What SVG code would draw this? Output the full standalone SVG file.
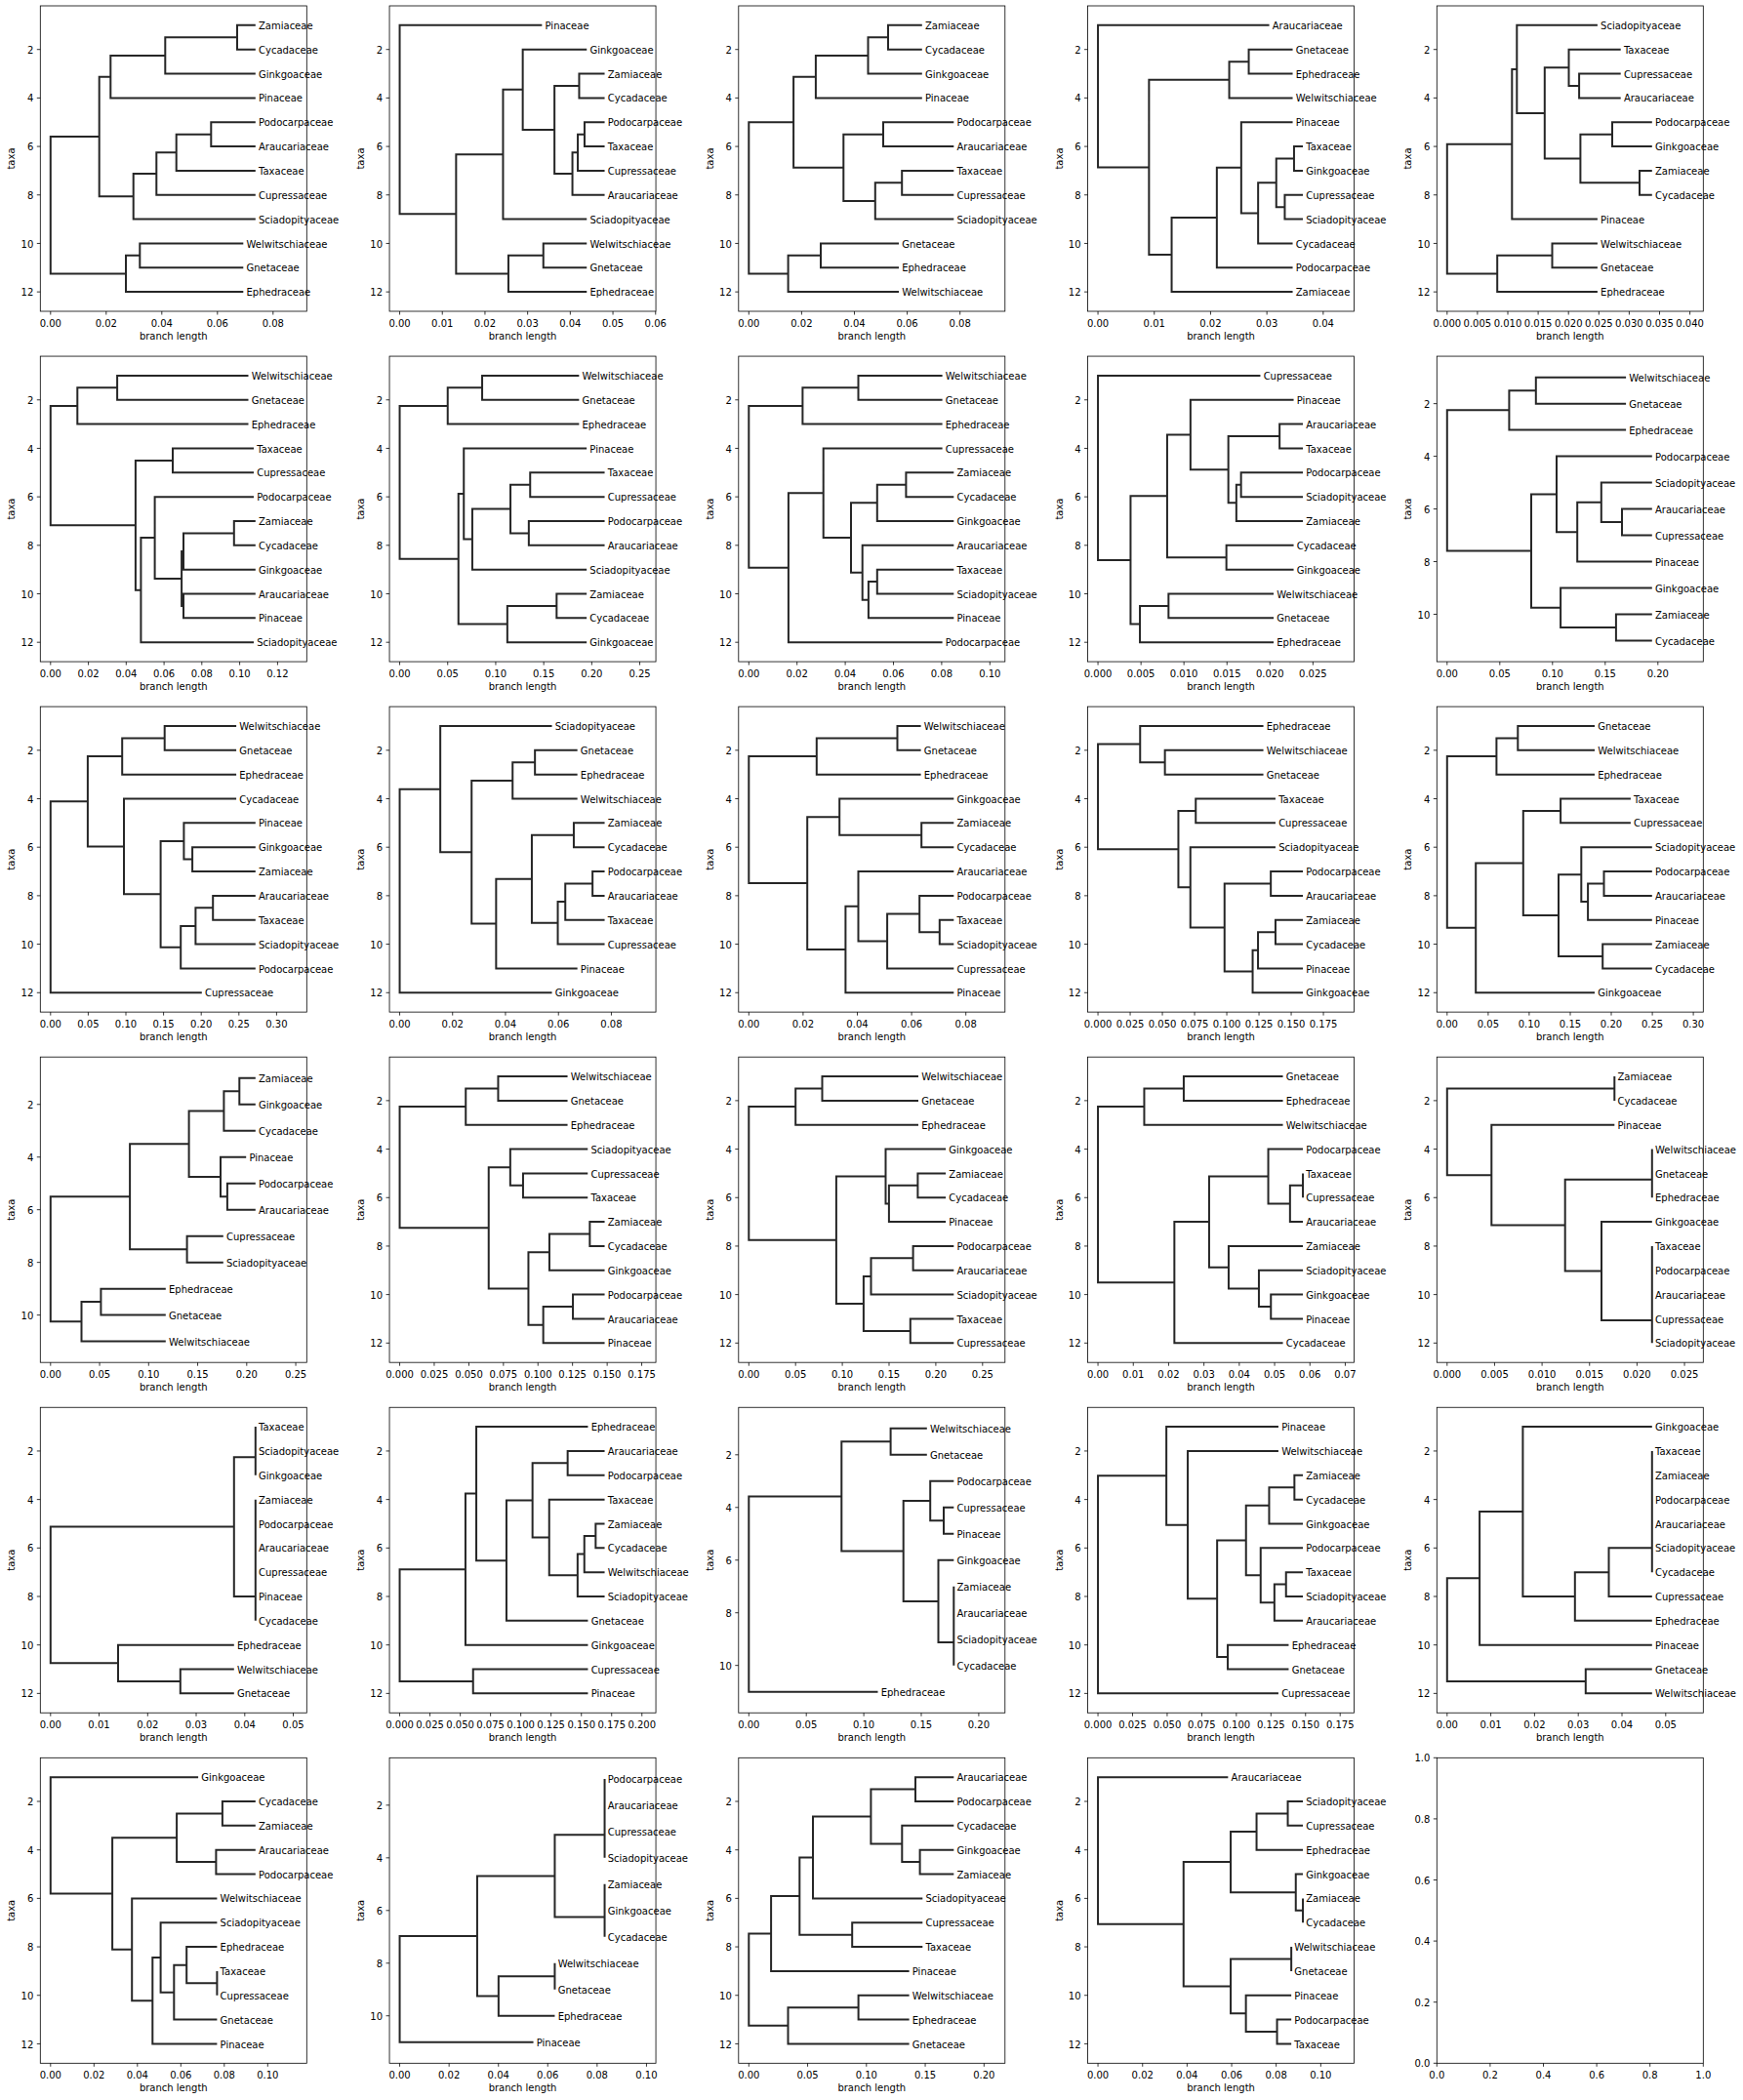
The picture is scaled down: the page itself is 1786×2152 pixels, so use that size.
<svg xmlns="http://www.w3.org/2000/svg" xmlns:xlink="http://www.w3.org/1999/xlink" width="1786" height="2152" viewBox="0 0 1786 2152">
<style>
text{font-family:"DejaVu Sans",sans-serif;font-size:10px;fill:#000}
.fr{fill:none;stroke:#000;stroke-width:0.8}
.tk{fill:none;stroke:#000;stroke-width:0.8}
.yl text{text-anchor:end}
.al{text-anchor:middle}
.xt text{text-anchor:middle}
.ed path{fill:none;stroke:#262626;stroke-width:2}
</style>
<defs>
<g id="ax12">
<rect class="fr" x="0" y="0" width="273" height="313"/>
<path class="tk" d="M0,44.71h-3.5M0,94.39h-3.5M0,144.08h-3.5M0,193.76h-3.5M0,243.44h-3.5M0,293.13h-3.5"/>
<g class="yl"><text x="-7" y="48.81">2</text><text x="-7" y="98.49">4</text><text x="-7" y="148.18">6</text><text x="-7" y="197.86">8</text><text x="-7" y="247.54">10</text><text x="-7" y="297.23">12</text></g>
<text class="al" transform="translate(-26,156.5) rotate(-90)">taxa</text>
<text class="al" x="136.5" y="341.7">branch length</text>
</g>
<g id="ax11">
<rect class="fr" x="0" y="0" width="273" height="313"/>
<path class="tk" d="M0,48.57h-3.5M0,102.54h-3.5M0,156.5h-3.5M0,210.47h-3.5M0,264.43h-3.5"/>
<g class="yl"><text x="-7" y="52.67">2</text><text x="-7" y="106.64">4</text><text x="-7" y="160.6">6</text><text x="-7" y="214.57">8</text><text x="-7" y="268.53">10</text></g>
<text class="al" transform="translate(-26,156.5) rotate(-90)">taxa</text>
<text class="al" x="136.5" y="341.7">branch length</text>
</g>
</defs>
<rect x="0" y="0" width="1786" height="2152" fill="#fff"/>

<!-- row 0 -->
<g id="tree_r0c0" transform="translate(41.3,6)">
<use xlink:href="#ax12"/>
<path class="tk" d="M10.5,313v3.5M67.5,313v3.5M124.5,313v3.5M181.5,313v3.5M238.5,313v3.5"/>
<g class="xt"><text x="10.5" y="329">0.00</text><text x="67.5" y="329">0.02</text><text x="124.5" y="329">0.04</text><text x="181.5" y="329">0.06</text><text x="238.5" y="329">0.08</text></g>
<g class="ed" transform="translate(10.5,-4.968) scale(1,24.841)"><path vector-effect="non-scaling-stroke" d="M49.9,5.594H0V11.25H77.2M61.5,3.125H49.9V8.063H84.9M117.5,2.25H61.5V4H210M191.2,1.5H117.5V3H210M210,1H191.2V2H210M108.5,7.125H84.9V9H210M128.9,6.25H108.5V8H210M164.5,5.5H128.9V7H210M210,5H164.5V6H210M91.5,10.5H77.2V12H197.5M197.5,10H91.5V11H197.5"/></g>
<g class="lb" transform="translate(13.7,-0.868)"><text x="210" y="24.84">Zamiaceae</text><text x="210" y="49.68">Cycadaceae</text><text x="210" y="74.52">Ginkgoaceae</text><text x="210" y="99.37">Pinaceae</text><text x="210" y="124.21">Podocarpaceae</text><text x="210" y="149.05">Araucariaceae</text><text x="210" y="173.89">Taxaceae</text><text x="210" y="198.73">Cupressaceae</text><text x="210" y="223.57">Sciadopityaceae</text><text x="197.5" y="248.41">Welwitschiaceae</text><text x="197.5" y="273.25">Gnetaceae</text><text x="197.5" y="298.1">Ephedraceae</text></g>
</g>

<g id="tree_r0c1" transform="translate(399.05,6)">
<use xlink:href="#ax12"/>
<path class="tk" d="M10.5,313v3.5M54.2,313v3.5M97.9,313v3.5M141.6,313v3.5M185.3,313v3.5M229,313v3.5M272.7,313v3.5"/>
<g class="xt"><text x="10.5" y="329">0.00</text><text x="54.2" y="329">0.01</text><text x="97.9" y="329">0.02</text><text x="141.6" y="329">0.03</text><text x="185.3" y="329">0.04</text><text x="229" y="329">0.05</text><text x="272.7" y="329">0.06</text></g>
<g class="ed" transform="translate(10.5,-4.968) scale(1,24.841)"><path vector-effect="non-scaling-stroke" d="M145.8,1H0V8.789H57.8M105.9,6.328H57.8V11.25H111.4M126.1,3.656H105.9V9H191.7M191.7,2H126.1V5.313H158.6M183.9,3.5H158.6V7.125H177M210,3H183.9V4H210M182.5,6.25H177V8H210M189.4,5.5H182.5V7H210M210,5H189.4V6H210M147.2,10.5H111.4V12H191.7M191.7,10H147.2V11H191.7"/></g>
<g class="lb" transform="translate(13.7,-0.868)"><text x="145.8" y="24.84">Pinaceae</text><text x="191.7" y="49.68">Ginkgoaceae</text><text x="210" y="74.52">Zamiaceae</text><text x="210" y="99.37">Cycadaceae</text><text x="210" y="124.21">Podocarpaceae</text><text x="210" y="149.05">Taxaceae</text><text x="210" y="173.89">Cupressaceae</text><text x="210" y="198.73">Araucariaceae</text><text x="191.7" y="223.57">Sciadopityaceae</text><text x="191.7" y="248.41">Welwitschiaceae</text><text x="191.7" y="273.25">Gnetaceae</text><text x="191.7" y="298.1">Ephedraceae</text></g>
</g>

<g id="tree_r0c2" transform="translate(756.8,6)">
<use xlink:href="#ax12"/>
<path class="tk" d="M10.5,313v3.5M64.6,313v3.5M118.7,313v3.5M172.8,313v3.5M226.9,313v3.5"/>
<g class="xt"><text x="10.5" y="329">0.00</text><text x="64.6" y="329">0.02</text><text x="118.7" y="329">0.04</text><text x="172.8" y="329">0.06</text><text x="226.9" y="329">0.08</text></g>
<g class="ed" transform="translate(10.5,-4.968) scale(1,24.841)"><path vector-effect="non-scaling-stroke" d="M45.8,5H0V11.25H40.3M68.6,3.125H45.8V6.875H97M122.2,2.25H68.6V4H177.5M142.7,1.5H122.2V3H177.5M177.5,1H142.7V2H177.5M137.7,5.5H97V8.25H129.5M210,5H137.7V6H210M156.9,7.5H129.5V9H210M210,7H156.9V8H210M73.7,10.5H40.3V12H153.7M153.7,10H73.7V11H153.7"/></g>
<g class="lb" transform="translate(13.7,-0.868)"><text x="177.5" y="24.84">Zamiaceae</text><text x="177.5" y="49.68">Cycadaceae</text><text x="177.5" y="74.52">Ginkgoaceae</text><text x="177.5" y="99.37">Pinaceae</text><text x="210" y="124.21">Podocarpaceae</text><text x="210" y="149.05">Araucariaceae</text><text x="210" y="173.89">Taxaceae</text><text x="210" y="198.73">Cupressaceae</text><text x="210" y="223.57">Sciadopityaceae</text><text x="153.7" y="248.41">Gnetaceae</text><text x="153.7" y="273.25">Ephedraceae</text><text x="153.7" y="298.1">Welwitschiaceae</text></g>
</g>

<g id="tree_r0c3" transform="translate(1114.55,6)">
<use xlink:href="#ax12"/>
<path class="tk" d="M10.5,313v3.5M68.2,313v3.5M125.9,313v3.5M183.6,313v3.5M241.3,313v3.5"/>
<g class="xt"><text x="10.5" y="329">0.00</text><text x="68.2" y="329">0.01</text><text x="125.9" y="329">0.02</text><text x="183.6" y="329">0.03</text><text x="241.3" y="329">0.04</text></g>
<g class="ed" transform="translate(10.5,-4.968) scale(1,24.841)"><path vector-effect="non-scaling-stroke" d="M175.5,1H0V6.859H52.3M134.5,3.25H52.3V10.469H75.5M154.5,2.5H134.5V4H199.5M199.5,2H154.5V3H199.5M121.8,8.938H75.5V12H199.5M146.8,6.875H121.8V11H199.5M199.5,5H146.8V8.75H164.1M182.7,7.5H164.1V10H199.5M200.9,6.5H182.7V8.5H191.4M210,6H200.9V7H210M210,8H191.4V9H210"/></g>
<g class="lb" transform="translate(13.7,-0.868)"><text x="175.5" y="24.84">Araucariaceae</text><text x="199.5" y="49.68">Gnetaceae</text><text x="199.5" y="74.52">Ephedraceae</text><text x="199.5" y="99.37">Welwitschiaceae</text><text x="199.5" y="124.21">Pinaceae</text><text x="210" y="149.05">Taxaceae</text><text x="210" y="173.89">Ginkgoaceae</text><text x="210" y="198.73">Cupressaceae</text><text x="210" y="223.57">Sciadopityaceae</text><text x="199.5" y="248.41">Cycadaceae</text><text x="199.5" y="273.25">Podocarpaceae</text><text x="199.5" y="298.1">Zamiaceae</text></g>
</g>

<g id="tree_r0c4" transform="translate(1472.3,6)">
<use xlink:href="#ax12"/>
<path class="tk" d="M10.5,313v3.5M41.6,313v3.5M72.7,313v3.5M103.8,313v3.5M134.9,313v3.5M166,313v3.5M197.1,313v3.5M228.2,313v3.5M259.3,313v3.5"/>
<g class="xt"><text x="10.5" y="329">0.000</text><text x="41.6" y="329">0.005</text><text x="72.7" y="329">0.010</text><text x="103.8" y="329">0.015</text><text x="134.9" y="329">0.020</text><text x="166" y="329">0.025</text><text x="197.1" y="329">0.030</text><text x="228.2" y="329">0.035</text><text x="259.3" y="329">0.040</text></g>
<g class="ed" transform="translate(10.5,-4.968) scale(1,24.841)"><path vector-effect="non-scaling-stroke" d="M66.5,5.906H0V11.25H51.4M71.5,2.813H66.5V9H154.1M154.1,1H71.5V4.625H100M124.7,2.75H100V6.5H136.6M177.9,2H124.7V3.5H135.3M177.9,3H135.3V4H177.9M169.2,5.5H136.6V7.5H197.2M210,5H169.2V6H210M210,7H197.2V8H210M107.7,10.5H51.4V12H154.1M154.1,10H107.7V11H154.1"/></g>
<g class="lb" transform="translate(13.7,-0.868)"><text x="154.1" y="24.84">Sciadopityaceae</text><text x="177.9" y="49.68">Taxaceae</text><text x="177.9" y="74.52">Cupressaceae</text><text x="177.9" y="99.37">Araucariaceae</text><text x="210" y="124.21">Podocarpaceae</text><text x="210" y="149.05">Ginkgoaceae</text><text x="210" y="173.89">Zamiaceae</text><text x="210" y="198.73">Cycadaceae</text><text x="154.1" y="223.57">Pinaceae</text><text x="154.1" y="248.41">Welwitschiaceae</text><text x="154.1" y="273.25">Gnetaceae</text><text x="154.1" y="298.1">Ephedraceae</text></g>
</g>

<!-- row 1 -->
<g id="tree_r1c0" transform="translate(41.3,365.06)">
<use xlink:href="#ax12"/>
<path class="tk" d="M10.5,313v3.5M49.3,313v3.5M88,313v3.5M126.8,313v3.5M165.5,313v3.5M204.3,313v3.5M243.1,313v3.5"/>
<g class="xt"><text x="10.5" y="329">0.00</text><text x="49.3" y="329">0.02</text><text x="88" y="329">0.04</text><text x="126.8" y="329">0.06</text><text x="165.5" y="329">0.08</text><text x="204.3" y="329">0.10</text><text x="243.1" y="329">0.12</text></g>
<g class="ed" transform="translate(10.5,-4.968) scale(1,24.841)"><path vector-effect="non-scaling-stroke" d="M27.5,2.25H0V7.172H87.1M68.3,1.5H27.5V3H202.7M202.7,1H68.3V2H202.7M125.2,4.5H87.1V9.844H92.6M208.2,4H125.2V5H208.2M106.8,7.688H92.6V12H208.2M208.2,6H106.8V9.375H134.3M136.2,8.25H134.3V10.5H136.2M188,7.5H136.2V9H210M210,7H188V8H210M210,10H136.2V11H210"/></g>
<g class="lb" transform="translate(13.7,-0.868)"><text x="202.7" y="24.84">Welwitschiaceae</text><text x="202.7" y="49.68">Gnetaceae</text><text x="202.7" y="74.52">Ephedraceae</text><text x="208.2" y="99.37">Taxaceae</text><text x="208.2" y="124.21">Cupressaceae</text><text x="208.2" y="149.05">Podocarpaceae</text><text x="210" y="173.89">Zamiaceae</text><text x="210" y="198.73">Cycadaceae</text><text x="210" y="223.57">Ginkgoaceae</text><text x="210" y="248.41">Araucariaceae</text><text x="210" y="273.25">Pinaceae</text><text x="208.2" y="298.1">Sciadopityaceae</text></g>
</g>

<g id="tree_r1c1" transform="translate(399.05,365.06)">
<use xlink:href="#ax12"/>
<path class="tk" d="M10.5,313v3.5M59.7,313v3.5M108.9,313v3.5M158.1,313v3.5M207.3,313v3.5M256.5,313v3.5"/>
<g class="xt"><text x="10.5" y="329">0.00</text><text x="59.7" y="329">0.05</text><text x="108.9" y="329">0.10</text><text x="158.1" y="329">0.15</text><text x="207.3" y="329">0.20</text><text x="256.5" y="329">0.25</text></g>
<g class="ed" transform="translate(10.5,-4.968) scale(1,24.841)"><path vector-effect="non-scaling-stroke" d="M49.2,2.25H0V8.563H60.2M84.5,1.5H49.2V3H183.8M183.8,1H84.5V2H183.8M65.7,5.875H60.2V11.25H110.3M191.6,4H65.7V7.75H74.4M113.5,6.5H74.4V9H191.6M133.7,5.5H113.5V7.5H132.3M210,5H133.7V6H210M210,7H132.3V8H210M160.8,10.5H110.3V12H191.6M191.6,10H160.8V11H191.6"/></g>
<g class="lb" transform="translate(13.7,-0.868)"><text x="183.8" y="24.84">Welwitschiaceae</text><text x="183.8" y="49.68">Gnetaceae</text><text x="183.8" y="74.52">Ephedraceae</text><text x="191.6" y="99.37">Pinaceae</text><text x="210" y="124.21">Taxaceae</text><text x="210" y="149.05">Cupressaceae</text><text x="210" y="173.89">Podocarpaceae</text><text x="210" y="198.73">Araucariaceae</text><text x="191.6" y="223.57">Sciadopityaceae</text><text x="191.6" y="248.41">Zamiaceae</text><text x="191.6" y="273.25">Cycadaceae</text><text x="191.6" y="298.1">Ginkgoaceae</text></g>
</g>

<g id="tree_r1c2" transform="translate(756.8,365.06)">
<use xlink:href="#ax12"/>
<path class="tk" d="M10.5,313v3.5M59.9,313v3.5M109.3,313v3.5M158.7,313v3.5M208.1,313v3.5M257.5,313v3.5"/>
<g class="xt"><text x="10.5" y="329">0.00</text><text x="59.9" y="329">0.02</text><text x="109.3" y="329">0.04</text><text x="158.7" y="329">0.06</text><text x="208.1" y="329">0.08</text><text x="257.5" y="329">0.10</text></g>
<g class="ed" transform="translate(10.5,-4.968) scale(1,24.841)"><path vector-effect="non-scaling-stroke" d="M55.1,2.25H0V8.922H40.6M112.2,1.5H55.1V3H198.3M198.3,1H112.2V2H198.3M76.4,5.844H40.6V12H198.3M198.3,4H76.4V7.688H104.7M131.5,6.25H104.7V9.125H116.4M161.1,5.5H131.5V7H210M210,5H161.1V6H210M210,8H116.4V10.25H122.6M131.5,9.5H122.6V11H210M210,9H131.5V10H210"/></g>
<g class="lb" transform="translate(13.7,-0.868)"><text x="198.3" y="24.84">Welwitschiaceae</text><text x="198.3" y="49.68">Gnetaceae</text><text x="198.3" y="74.52">Ephedraceae</text><text x="198.3" y="99.37">Cupressaceae</text><text x="210" y="124.21">Zamiaceae</text><text x="210" y="149.05">Cycadaceae</text><text x="210" y="173.89">Ginkgoaceae</text><text x="210" y="198.73">Araucariaceae</text><text x="210" y="223.57">Taxaceae</text><text x="210" y="248.41">Sciadopityaceae</text><text x="210" y="273.25">Pinaceae</text><text x="198.3" y="298.1">Podocarpaceae</text></g>
</g>

<g id="tree_r1c3" transform="translate(1114.55,365.06)">
<use xlink:href="#ax12"/>
<path class="tk" d="M10.5,313v3.5M54.6,313v3.5M98.6,313v3.5M142.7,313v3.5M186.7,313v3.5M230.8,313v3.5"/>
<g class="xt"><text x="10.5" y="329">0.000</text><text x="54.6" y="329">0.005</text><text x="98.6" y="329">0.010</text><text x="142.7" y="329">0.015</text><text x="186.7" y="329">0.020</text><text x="230.8" y="329">0.025</text></g>
<g class="ed" transform="translate(10.5,-4.968) scale(1,24.841)"><path vector-effect="non-scaling-stroke" d="M166.4,1H0V8.609H33.4M70.9,5.969H33.4V11.25H43M94.8,3.438H70.9V8.5H131.6M200.5,2H94.8V4.875H133.6M186.1,3.5H133.6V6.25H141.8M210,3H186.1V4H210M146.6,5.5H141.8V7H210M210,5H146.6V6H210M200.5,8H131.6V9H200.5M72.3,10.5H43V12H180M180,10H72.3V11H180"/></g>
<g class="lb" transform="translate(13.7,-0.868)"><text x="166.4" y="24.84">Cupressaceae</text><text x="200.5" y="49.68">Pinaceae</text><text x="210" y="74.52">Araucariaceae</text><text x="210" y="99.37">Taxaceae</text><text x="210" y="124.21">Podocarpaceae</text><text x="210" y="149.05">Sciadopityaceae</text><text x="210" y="173.89">Zamiaceae</text><text x="200.5" y="198.73">Cycadaceae</text><text x="200.5" y="223.57">Ginkgoaceae</text><text x="180" y="248.41">Welwitschiaceae</text><text x="180" y="273.25">Gnetaceae</text><text x="180" y="298.1">Ephedraceae</text></g>
</g>

<g id="tree_r1c4" transform="translate(1472.3,365.06)">
<use xlink:href="#ax11"/>
<path class="tk" d="M10.5,313v3.5M64.5,313v3.5M118.5,313v3.5M172.5,313v3.5M226.5,313v3.5"/>
<g class="xt"><text x="10.5" y="329">0.00</text><text x="64.5" y="329">0.05</text><text x="118.5" y="329">0.10</text><text x="172.5" y="329">0.15</text><text x="226.5" y="329">0.20</text></g>
<g class="ed" transform="translate(10.5,-5.397) scale(1,26.983)"><path vector-effect="non-scaling-stroke" d="M63.6,2.25H0V7.594H86.2M91,1.5H63.6V3H183.3M183.3,1H91V2H183.3M112.2,5.438H86.2V9.75H116.3M210,4H112.2V6.875H133.4M158,5.75H133.4V8H210M210,5H158V6.5H179.2M210,6H179.2V7H210M210,9H116.3V10.5H173.1M210,10H173.1V11H210"/></g>
<g class="lb" transform="translate(13.7,-1.297)"><text x="183.3" y="26.98">Welwitschiaceae</text><text x="183.3" y="53.97">Gnetaceae</text><text x="183.3" y="80.95">Ephedraceae</text><text x="210" y="107.93">Podocarpaceae</text><text x="210" y="134.91">Sciadopityaceae</text><text x="210" y="161.9">Araucariaceae</text><text x="210" y="188.88">Cupressaceae</text><text x="210" y="215.86">Pinaceae</text><text x="210" y="242.84">Ginkgoaceae</text><text x="210" y="269.83">Zamiaceae</text><text x="210" y="296.81">Cycadaceae</text></g>
</g>

<!-- row 2 -->
<g id="tree_r2c0" transform="translate(41.3,724.12)">
<use xlink:href="#ax12"/>
<path class="tk" d="M10.5,313v3.5M49.1,313v3.5M87.7,313v3.5M126.3,313v3.5M164.9,313v3.5M203.5,313v3.5M242.1,313v3.5"/>
<g class="xt"><text x="10.5" y="329">0.00</text><text x="49.1" y="329">0.05</text><text x="87.7" y="329">0.10</text><text x="126.3" y="329">0.15</text><text x="164.9" y="329">0.20</text><text x="203.5" y="329">0.25</text><text x="242.1" y="329">0.30</text></g>
<g class="ed" transform="translate(10.5,-4.968) scale(1,24.841)"><path vector-effect="non-scaling-stroke" d="M38.1,4.109H0V12H155M73.4,2.25H38.1V5.969H75.2M116.9,1.5H73.4V3H190.3M190.3,1H116.9V2H190.3M190.3,4H75.2V7.938H112.8M136.6,5.75H112.8V10.125H133.4M210,5H136.6V6.5H145.3M210,6H145.3V7H210M148.6,9.25H133.4V11H210M166.4,8.5H148.6V10H210M210,8H166.4V9H210"/></g>
<g class="lb" transform="translate(13.7,-0.868)"><text x="190.3" y="24.84">Welwitschiaceae</text><text x="190.3" y="49.68">Gnetaceae</text><text x="190.3" y="74.52">Ephedraceae</text><text x="190.3" y="99.37">Cycadaceae</text><text x="210" y="124.21">Pinaceae</text><text x="210" y="149.05">Ginkgoaceae</text><text x="210" y="173.89">Zamiaceae</text><text x="210" y="198.73">Araucariaceae</text><text x="210" y="223.57">Taxaceae</text><text x="210" y="248.41">Sciadopityaceae</text><text x="210" y="273.25">Podocarpaceae</text><text x="155" y="298.1">Cupressaceae</text></g>
</g>

<g id="tree_r2c1" transform="translate(399.05,724.12)">
<use xlink:href="#ax12"/>
<path class="tk" d="M10.5,313v3.5M64.7,313v3.5M118.9,313v3.5M173.2,313v3.5M227.4,313v3.5"/>
<g class="xt"><text x="10.5" y="329">0.00</text><text x="64.7" y="329">0.02</text><text x="118.9" y="329">0.04</text><text x="173.2" y="329">0.06</text><text x="227.4" y="329">0.08</text></g>
<g class="ed" transform="translate(10.5,-4.968) scale(1,24.841)"><path vector-effect="non-scaling-stroke" d="M41.6,3.602H0V12H156M156,1H41.6V6.203H73.7M115.7,3.25H73.7V9.156H98.8M138.6,2.5H115.7V4H182.1M182.1,2H138.6V3H182.1M135.4,7.313H98.8V11H182.1M178.4,5.5H135.4V9.125H162M210,5H178.4V6H210M169.7,8.25H162V10H210M197.6,7.5H169.7V9H210M210,7H197.6V8H210"/></g>
<g class="lb" transform="translate(13.7,-0.868)"><text x="156" y="24.84">Sciadopityaceae</text><text x="182.1" y="49.68">Gnetaceae</text><text x="182.1" y="74.52">Ephedraceae</text><text x="182.1" y="99.37">Welwitschiaceae</text><text x="210" y="124.21">Zamiaceae</text><text x="210" y="149.05">Cycadaceae</text><text x="210" y="173.89">Podocarpaceae</text><text x="210" y="198.73">Araucariaceae</text><text x="210" y="223.57">Taxaceae</text><text x="210" y="248.41">Cupressaceae</text><text x="182.1" y="273.25">Pinaceae</text><text x="156" y="298.1">Ginkgoaceae</text></g>
</g>

<g id="tree_r2c2" transform="translate(756.8,724.12)">
<use xlink:href="#ax12"/>
<path class="tk" d="M10.5,313v3.5M66.1,313v3.5M121.7,313v3.5M177.3,313v3.5M232.9,313v3.5"/>
<g class="xt"><text x="10.5" y="329">0.00</text><text x="66.1" y="329">0.02</text><text x="121.7" y="329">0.04</text><text x="177.3" y="329">0.06</text><text x="232.9" y="329">0.08</text></g>
<g class="ed" transform="translate(10.5,-4.968) scale(1,24.841)"><path vector-effect="non-scaling-stroke" d="M69.5,2.25H0V7.484H59.9M152.2,1.5H69.5V3H176.3M176.3,1H152.2V2H176.3M92.9,4.75H59.9V10.219H99.1M210,4H92.9V5.5H176.9M210,5H176.9V6H210M112.2,8.438H99.1V12H210M210,7H112.2V9.875H141.8M174.9,8.75H141.8V11H210M210,8H174.9V9.5H195.5M210,9H195.5V10H210"/></g>
<g class="lb" transform="translate(13.7,-0.868)"><text x="176.3" y="24.84">Welwitschiaceae</text><text x="176.3" y="49.68">Gnetaceae</text><text x="176.3" y="74.52">Ephedraceae</text><text x="210" y="99.37">Ginkgoaceae</text><text x="210" y="124.21">Zamiaceae</text><text x="210" y="149.05">Cycadaceae</text><text x="210" y="173.89">Araucariaceae</text><text x="210" y="198.73">Podocarpaceae</text><text x="210" y="223.57">Taxaceae</text><text x="210" y="248.41">Sciadopityaceae</text><text x="210" y="273.25">Cupressaceae</text><text x="210" y="298.1">Pinaceae</text></g>
</g>

<g id="tree_r2c3" transform="translate(1114.55,724.12)">
<use xlink:href="#ax12"/>
<path class="tk" d="M10.5,313v3.5M43.5,313v3.5M76.5,313v3.5M109.5,313v3.5M142.5,313v3.5M175.5,313v3.5M208.5,313v3.5M241.5,313v3.5"/>
<g class="xt"><text x="10.5" y="329">0.000</text><text x="43.5" y="329">0.025</text><text x="76.5" y="329">0.050</text><text x="109.5" y="329">0.075</text><text x="142.5" y="329">0.100</text><text x="175.5" y="329">0.125</text><text x="208.5" y="329">0.150</text><text x="241.5" y="329">0.175</text></g>
<g class="ed" transform="translate(10.5,-4.968) scale(1,24.841)"><path vector-effect="non-scaling-stroke" d="M43.2,1.75H0V6.078H82.4M169.5,1H43.2V2.5H68.6M169.5,2H68.6V3H169.5M100.2,4.5H82.4V7.656H94.7M181.9,4H100.2V5H181.9M181.9,6H94.7V9.313H129.7M177.1,7.5H129.7V11.125H158.5M210,7H177.1V8H210M164,10.25H158.5V12H210M181.9,9.5H164V11H210M210,9H181.9V10H210"/></g>
<g class="lb" transform="translate(13.7,-0.868)"><text x="169.5" y="24.84">Ephedraceae</text><text x="169.5" y="49.68">Welwitschiaceae</text><text x="169.5" y="74.52">Gnetaceae</text><text x="181.9" y="99.37">Taxaceae</text><text x="181.9" y="124.21">Cupressaceae</text><text x="181.9" y="149.05">Sciadopityaceae</text><text x="210" y="173.89">Podocarpaceae</text><text x="210" y="198.73">Araucariaceae</text><text x="210" y="223.57">Zamiaceae</text><text x="210" y="248.41">Cycadaceae</text><text x="210" y="273.25">Pinaceae</text><text x="210" y="298.1">Ginkgoaceae</text></g>
</g>

<g id="tree_r2c4" transform="translate(1472.3,724.12)">
<use xlink:href="#ax12"/>
<path class="tk" d="M10.5,313v3.5M52.6,313v3.5M94.6,313v3.5M136.7,313v3.5M178.7,313v3.5M220.8,313v3.5M262.8,313v3.5"/>
<g class="xt"><text x="10.5" y="329">0.00</text><text x="52.6" y="329">0.05</text><text x="94.6" y="329">0.10</text><text x="136.7" y="329">0.15</text><text x="178.7" y="329">0.20</text><text x="220.8" y="329">0.25</text><text x="262.8" y="329">0.30</text></g>
<g class="ed" transform="translate(10.5,-4.968) scale(1,24.841)"><path vector-effect="non-scaling-stroke" d="M50.6,2.25H0V9.328H29.4M72.5,1.5H50.6V3H151.2M151.2,1H72.5V2H151.2M78,6.656H29.4V12H151.2M116.3,4.5H78V8.813H114.2M188.1,4H116.3V5H188.1M137.5,7.125H114.2V10.5H159.4M210,6H137.5V8.25H144.3M160.7,7.5H144.3V9H210M210,7H160.7V8H210M210,10H159.4V11H210"/></g>
<g class="lb" transform="translate(13.7,-0.868)"><text x="151.2" y="24.84">Gnetaceae</text><text x="151.2" y="49.68">Welwitschiaceae</text><text x="151.2" y="74.52">Ephedraceae</text><text x="188.1" y="99.37">Taxaceae</text><text x="188.1" y="124.21">Cupressaceae</text><text x="210" y="149.05">Sciadopityaceae</text><text x="210" y="173.89">Podocarpaceae</text><text x="210" y="198.73">Araucariaceae</text><text x="210" y="223.57">Pinaceae</text><text x="210" y="248.41">Zamiaceae</text><text x="210" y="273.25">Cycadaceae</text><text x="151.2" y="298.1">Ginkgoaceae</text></g>
</g>

<!-- row 3 -->
<g id="tree_r3c0" transform="translate(41.3,1083.18)">
<use xlink:href="#ax11"/>
<path class="tk" d="M10.5,313v3.5M60.75,313v3.5M111,313v3.5M161.25,313v3.5M211.5,313v3.5M261.75,313v3.5"/>
<g class="xt"><text x="10.5" y="329">0.00</text><text x="60.75" y="329">0.05</text><text x="111" y="329">0.10</text><text x="161.25" y="329">0.15</text><text x="211.5" y="329">0.20</text><text x="261.75" y="329">0.25</text></g>
<g class="ed" transform="translate(10.5,-5.397) scale(1,26.983)"><path vector-effect="non-scaling-stroke" d="M81.3,5.5H0V10.25H31.7M141.8,3.5H81.3V7.5H139.8M177.6,2.25H141.8V4.75H174.2M193.5,1.5H177.6V3H210M210,1H193.5V2H210M200.4,4H174.2V5.5H181.1M210,5H181.1V6H210M177,7H139.8V8H177M51.6,9.5H31.7V11H118M118,9H51.6V10H118"/></g>
<g class="lb" transform="translate(13.7,-1.297)"><text x="210" y="26.98">Zamiaceae</text><text x="210" y="53.97">Ginkgoaceae</text><text x="210" y="80.95">Cycadaceae</text><text x="200.4" y="107.93">Pinaceae</text><text x="210" y="134.91">Podocarpaceae</text><text x="210" y="161.9">Araucariaceae</text><text x="177" y="188.88">Cupressaceae</text><text x="177" y="215.86">Sciadopityaceae</text><text x="118" y="242.84">Ephedraceae</text><text x="118" y="269.83">Gnetaceae</text><text x="118" y="296.81">Welwitschiaceae</text></g>
</g>

<g id="tree_r3c1" transform="translate(399.05,1083.18)">
<use xlink:href="#ax12"/>
<path class="tk" d="M10.5,313v3.5M45.9,313v3.5M81.4,313v3.5M116.8,313v3.5M152.2,313v3.5M187.6,313v3.5M223.1,313v3.5M258.5,313v3.5"/>
<g class="xt"><text x="10.5" y="329">0.000</text><text x="45.9" y="329">0.025</text><text x="81.4" y="329">0.050</text><text x="116.8" y="329">0.075</text><text x="152.2" y="329">0.100</text><text x="187.6" y="329">0.125</text><text x="223.1" y="329">0.150</text><text x="258.5" y="329">0.175</text></g>
<g class="ed" transform="translate(10.5,-4.968) scale(1,24.841)"><path vector-effect="non-scaling-stroke" d="M67.7,2.25H0V7.25H91.2M100.9,1.5H67.7V3H172M172,1H100.9V2H172M113.3,4.75H91.2V9.75H131.9M192.7,4H113.3V5.5H126.4M192.7,5H126.4V6H192.7M153.4,8.25H131.9V11.25H147.1M194.8,7.5H153.4V9H210M210,7H194.8V8H210M177.5,10.5H147.1V12H210M210,10H177.5V11H210"/></g>
<g class="lb" transform="translate(13.7,-0.868)"><text x="172" y="24.84">Welwitschiaceae</text><text x="172" y="49.68">Gnetaceae</text><text x="172" y="74.52">Ephedraceae</text><text x="192.7" y="99.37">Sciadopityaceae</text><text x="192.7" y="124.21">Cupressaceae</text><text x="192.7" y="149.05">Taxaceae</text><text x="210" y="173.89">Zamiaceae</text><text x="210" y="198.73">Cycadaceae</text><text x="210" y="223.57">Ginkgoaceae</text><text x="210" y="248.41">Podocarpaceae</text><text x="210" y="273.25">Araucariaceae</text><text x="210" y="298.1">Pinaceae</text></g>
</g>

<g id="tree_r3c2" transform="translate(756.8,1083.18)">
<use xlink:href="#ax12"/>
<path class="tk" d="M10.5,313v3.5M58.4,313v3.5M106.3,313v3.5M154.2,313v3.5M202.1,313v3.5M250,313v3.5"/>
<g class="xt"><text x="10.5" y="329">0.00</text><text x="58.4" y="329">0.05</text><text x="106.3" y="329">0.10</text><text x="154.2" y="329">0.15</text><text x="202.1" y="329">0.20</text><text x="250" y="329">0.25</text></g>
<g class="ed" transform="translate(10.5,-4.968) scale(1,24.841)"><path vector-effect="non-scaling-stroke" d="M47.9,2.25H0V7.75H89.6M75.2,1.5H47.9V3H173.7M173.7,1H75.2V2H173.7M140.2,5.125H89.6V10.375H117.6M201.8,4H140.2V6.25H143.6M173.1,5.5H143.6V7H201.8M201.8,5H173.1V6H201.8M125.2,9.25H117.6V11.5H165.5M168.3,8.5H125.2V10H210M210,8H168.3V9H210M210,11H165.5V12H210"/></g>
<g class="lb" transform="translate(13.7,-0.868)"><text x="173.7" y="24.84">Welwitschiaceae</text><text x="173.7" y="49.68">Gnetaceae</text><text x="173.7" y="74.52">Ephedraceae</text><text x="201.8" y="99.37">Ginkgoaceae</text><text x="201.8" y="124.21">Zamiaceae</text><text x="201.8" y="149.05">Cycadaceae</text><text x="201.8" y="173.89">Pinaceae</text><text x="210" y="198.73">Podocarpaceae</text><text x="210" y="223.57">Araucariaceae</text><text x="210" y="248.41">Sciadopityaceae</text><text x="210" y="273.25">Taxaceae</text><text x="210" y="298.1">Cupressaceae</text></g>
</g>

<g id="tree_r3c3" transform="translate(1114.55,1083.18)">
<use xlink:href="#ax12"/>
<path class="tk" d="M10.5,313v3.5M46.7,313v3.5M82.9,313v3.5M119.1,313v3.5M155.3,313v3.5M191.5,313v3.5M227.7,313v3.5M263.9,313v3.5"/>
<g class="xt"><text x="10.5" y="329">0.00</text><text x="46.7" y="329">0.01</text><text x="82.9" y="329">0.02</text><text x="119.1" y="329">0.03</text><text x="155.3" y="329">0.04</text><text x="191.5" y="329">0.05</text><text x="227.7" y="329">0.06</text><text x="263.9" y="329">0.07</text></g>
<g class="ed" transform="translate(10.5,-4.968) scale(1,24.841)"><path vector-effect="non-scaling-stroke" d="M47.4,2.25H0V9.5H78.3M87.9,1.5H47.4V3H189.5M189.5,1H87.9V2H189.5M113.9,7H78.3V12H189.5M174.5,5.125H113.9V8.875H133.9M210,4H174.5V6.25H196.8M210,5.5H196.8V7H210M210,5V6M210,8H133.9V9.75H164.9M210,9H164.9V10.5H177.2M210,10H177.2V11H210"/></g>
<g class="lb" transform="translate(13.7,-0.868)"><text x="189.5" y="24.84">Gnetaceae</text><text x="189.5" y="49.68">Ephedraceae</text><text x="189.5" y="74.52">Welwitschiaceae</text><text x="210" y="99.37">Podocarpaceae</text><text x="210" y="124.21">Taxaceae</text><text x="210" y="149.05">Cupressaceae</text><text x="210" y="173.89">Araucariaceae</text><text x="210" y="198.73">Zamiaceae</text><text x="210" y="223.57">Sciadopityaceae</text><text x="210" y="248.41">Ginkgoaceae</text><text x="210" y="273.25">Pinaceae</text><text x="189.5" y="298.1">Cycadaceae</text></g>
</g>

<g id="tree_r3c4" transform="translate(1472.3,1083.18)">
<use xlink:href="#ax12"/>
<path class="tk" d="M10.5,313v3.5M59.15,313v3.5M107.8,313v3.5M156.45,313v3.5M205.1,313v3.5M253.75,313v3.5"/>
<g class="xt"><text x="10.5" y="329">0.000</text><text x="59.15" y="329">0.005</text><text x="107.8" y="329">0.010</text><text x="156.45" y="329">0.015</text><text x="205.1" y="329">0.020</text><text x="253.75" y="329">0.025</text></g>
<g class="ed" transform="translate(10.5,-4.968) scale(1,24.841)"><path vector-effect="non-scaling-stroke" d="M171.5,1.5H0V5.07H45.5M171.5,1V2M171.5,3H45.5V7.141H120.9M210,5.25H120.9V9.031H158.2M210,4V6M210,7H158.2V11.063H210M210,8V12"/></g>
<g class="lb" transform="translate(13.7,-0.868)"><text x="171.5" y="24.84">Zamiaceae</text><text x="171.5" y="49.68">Cycadaceae</text><text x="171.5" y="74.52">Pinaceae</text><text x="210" y="99.37">Welwitschiaceae</text><text x="210" y="124.21">Gnetaceae</text><text x="210" y="149.05">Ephedraceae</text><text x="210" y="173.89">Ginkgoaceae</text><text x="210" y="198.73">Taxaceae</text><text x="210" y="223.57">Podocarpaceae</text><text x="210" y="248.41">Araucariaceae</text><text x="210" y="273.25">Cupressaceae</text><text x="210" y="298.1">Sciadopityaceae</text></g>
</g>

<!-- row 4 -->
<g id="tree_r4c0" transform="translate(41.3,1442.24)">
<use xlink:href="#ax12"/>
<path class="tk" d="M10.5,313v3.5M60.2,313v3.5M110,313v3.5M159.7,313v3.5M209.5,313v3.5M259.2,313v3.5"/>
<g class="xt"><text x="10.5" y="329">0.00</text><text x="60.2" y="329">0.01</text><text x="110" y="329">0.02</text><text x="159.7" y="329">0.03</text><text x="209.5" y="329">0.04</text><text x="259.2" y="329">0.05</text></g>
<g class="ed" transform="translate(10.5,-4.968) scale(1,24.841)"><path vector-effect="non-scaling-stroke" d="M188,5.125H0V10.75H69.2M210,2.25H188V8H210M210,1V3M210,4V9M188,10H69.2V11.5H133M188,11H133V12H188"/></g>
<g class="lb" transform="translate(13.7,-0.868)"><text x="210" y="24.84">Taxaceae</text><text x="210" y="49.68">Sciadopityaceae</text><text x="210" y="74.52">Ginkgoaceae</text><text x="210" y="99.37">Zamiaceae</text><text x="210" y="124.21">Podocarpaceae</text><text x="210" y="149.05">Araucariaceae</text><text x="210" y="173.89">Cupressaceae</text><text x="210" y="198.73">Pinaceae</text><text x="210" y="223.57">Cycadaceae</text><text x="188" y="248.41">Ephedraceae</text><text x="188" y="273.25">Welwitschiaceae</text><text x="188" y="298.1">Gnetaceae</text></g>
</g>

<g id="tree_r4c1" transform="translate(399.05,1442.24)">
<use xlink:href="#ax12"/>
<path class="tk" d="M10.5,313v3.5M41.5,313v3.5M72.6,313v3.5M103.6,313v3.5M134.6,313v3.5M165.6,313v3.5M196.7,313v3.5M227.7,313v3.5M258.7,313v3.5"/>
<g class="xt"><text x="10.5" y="329">0.000</text><text x="41.5" y="329">0.025</text><text x="72.6" y="329">0.050</text><text x="103.6" y="329">0.075</text><text x="134.6" y="329">0.100</text><text x="165.6" y="329">0.125</text><text x="196.7" y="329">0.150</text><text x="227.7" y="329">0.175</text><text x="258.7" y="329">0.200</text></g>
<g class="ed" transform="translate(10.5,-4.968) scale(1,24.841)"><path vector-effect="non-scaling-stroke" d="M67.4,6.879H0V11.5H75.2M78.5,3.758H67.4V10H192.9M192.9,1H78.5V6.516H109.4M136.1,4.031H109.4V9H192.9M172.1,2.5H136.1V5.563H153.2M210,2H172.1V3H210M210,4H153.2V7.125H182.3M189.2,6.25H182.3V8H210M200.8,5.5H189.2V7H210M210,5H200.8V6H210M192.9,11H75.2V12H192.9"/></g>
<g class="lb" transform="translate(13.7,-0.868)"><text x="192.9" y="24.84">Ephedraceae</text><text x="210" y="49.68">Araucariaceae</text><text x="210" y="74.52">Podocarpaceae</text><text x="210" y="99.37">Taxaceae</text><text x="210" y="124.21">Zamiaceae</text><text x="210" y="149.05">Cycadaceae</text><text x="210" y="173.89">Welwitschiaceae</text><text x="210" y="198.73">Sciadopityaceae</text><text x="192.9" y="223.57">Gnetaceae</text><text x="192.9" y="248.41">Ginkgoaceae</text><text x="192.9" y="273.25">Cupressaceae</text><text x="192.9" y="298.1">Pinaceae</text></g>
</g>

<g id="tree_r4c2" transform="translate(756.8,1442.24)">
<use xlink:href="#ax11"/>
<path class="tk" d="M10.5,313v3.5M69.4,313v3.5M128.3,313v3.5M187.2,313v3.5M246.1,313v3.5"/>
<g class="xt"><text x="10.5" y="329">0.00</text><text x="69.4" y="329">0.05</text><text x="128.3" y="329">0.10</text><text x="187.2" y="329">0.15</text><text x="246.1" y="329">0.20</text></g>
<g class="ed" transform="translate(10.5,-5.397) scale(1,26.983)"><path vector-effect="non-scaling-stroke" d="M95,3.578H0V11H132.2M145.3,1.5H95V5.656H158.4M182.5,1H145.3V2H182.5M185.9,3.75H158.4V7.563H194.2M210,3H185.9V4.5H199.7M210,4H199.7V5H210M210,6H194.2V9.125H210M210,7V10"/></g>
<g class="lb" transform="translate(13.7,-1.297)"><text x="182.5" y="26.98">Welwitschiaceae</text><text x="182.5" y="53.97">Gnetaceae</text><text x="210" y="80.95">Podocarpaceae</text><text x="210" y="107.93">Cupressaceae</text><text x="210" y="134.91">Pinaceae</text><text x="210" y="161.9">Ginkgoaceae</text><text x="210" y="188.88">Zamiaceae</text><text x="210" y="215.86">Araucariaceae</text><text x="210" y="242.84">Sciadopityaceae</text><text x="210" y="269.83">Cycadaceae</text><text x="132.2" y="296.81">Ephedraceae</text></g>
</g>

<g id="tree_r4c3" transform="translate(1114.55,1442.24)">
<use xlink:href="#ax12"/>
<path class="tk" d="M10.5,313v3.5M45.95,313v3.5M81.4,313v3.5M116.85,313v3.5M152.3,313v3.5M187.75,313v3.5M223.2,313v3.5M258.65,313v3.5"/>
<g class="xt"><text x="10.5" y="329">0.000</text><text x="45.95" y="329">0.025</text><text x="81.4" y="329">0.050</text><text x="116.85" y="329">0.075</text><text x="152.3" y="329">0.100</text><text x="187.75" y="329">0.125</text><text x="223.2" y="329">0.150</text><text x="258.65" y="329">0.175</text></g>
<g class="ed" transform="translate(10.5,-4.968) scale(1,24.841)"><path vector-effect="non-scaling-stroke" d="M70.1,3.023H0V12H184.9M184.9,1H70.1V5.047H92M184.9,2H92V8.094H122.1M151.7,5.688H122.1V10.5H133M175.4,4.25H151.7V7.125H166.7M201.3,3.5H175.4V5H210M210,3H201.3V4H210M210,6H166.7V8.25H180.8M192.7,7.5H180.8V9H210M210,7H192.7V8H210M195.4,10H133V11H195.4"/></g>
<g class="lb" transform="translate(13.7,-0.868)"><text x="184.9" y="24.84">Pinaceae</text><text x="184.9" y="49.68">Welwitschiaceae</text><text x="210" y="74.52">Zamiaceae</text><text x="210" y="99.37">Cycadaceae</text><text x="210" y="124.21">Ginkgoaceae</text><text x="210" y="149.05">Podocarpaceae</text><text x="210" y="173.89">Taxaceae</text><text x="210" y="198.73">Sciadopityaceae</text><text x="210" y="223.57">Araucariaceae</text><text x="195.4" y="248.41">Ephedraceae</text><text x="195.4" y="273.25">Gnetaceae</text><text x="184.9" y="298.1">Cupressaceae</text></g>
</g>

<g id="tree_r4c4" transform="translate(1472.3,1442.24)">
<use xlink:href="#ax12"/>
<path class="tk" d="M10.5,313v3.5M55.3,313v3.5M100.1,313v3.5M144.9,313v3.5M189.7,313v3.5M234.5,313v3.5"/>
<g class="xt"><text x="10.5" y="329">0.00</text><text x="55.3" y="329">0.01</text><text x="100.1" y="329">0.02</text><text x="144.9" y="329">0.03</text><text x="189.7" y="329">0.04</text><text x="234.5" y="329">0.05</text></g>
<g class="ed" transform="translate(10.5,-4.968) scale(1,24.841)"><path vector-effect="non-scaling-stroke" d="M33.3,7.25H0V11.5H142M77.6,4.5H33.3V10H210M210,1H77.6V8H131M165.7,7H131V9H210M210,6H165.7V8H210M210,2V7M210,11H142V12H210"/></g>
<g class="lb" transform="translate(13.7,-0.868)"><text x="210" y="24.84">Ginkgoaceae</text><text x="210" y="49.68">Taxaceae</text><text x="210" y="74.52">Zamiaceae</text><text x="210" y="99.37">Podocarpaceae</text><text x="210" y="124.21">Araucariaceae</text><text x="210" y="149.05">Sciadopityaceae</text><text x="210" y="173.89">Cycadaceae</text><text x="210" y="198.73">Cupressaceae</text><text x="210" y="223.57">Ephedraceae</text><text x="210" y="248.41">Pinaceae</text><text x="210" y="273.25">Gnetaceae</text><text x="210" y="298.1">Welwitschiaceae</text></g>
</g>

<!-- row 5 -->
<g id="tree_r5c0" transform="translate(41.3,1801.3)">
<use xlink:href="#ax12"/>
<path class="tk" d="M10.5,313v3.5M55,313v3.5M99.5,313v3.5M144,313v3.5M188.5,313v3.5M233,313v3.5"/>
<g class="xt"><text x="10.5" y="329">0.00</text><text x="55" y="329">0.02</text><text x="99.5" y="329">0.04</text><text x="144" y="329">0.06</text><text x="188.5" y="329">0.08</text><text x="233" y="329">0.10</text></g>
<g class="ed" transform="translate(10.5,-4.968) scale(1,24.841)"><path vector-effect="non-scaling-stroke" d="M151.3,1H0V5.805H63.3M129.3,3.5H63.3V8.109H83.4M176.1,2.5H129.3V4.5H169.6M210,2H176.1V3H210M210,4H169.6V5H210M170.6,6H83.4V10.219H104.5M112.8,8.438H104.5V12H170.6M170.6,7H112.8V9.875H126.5M139.4,8.75H126.5V11H170.6M170.6,8H139.4V9.5H170.6M170.6,9V10"/></g>
<g class="lb" transform="translate(13.7,-0.868)"><text x="151.3" y="24.84">Ginkgoaceae</text><text x="210" y="49.68">Cycadaceae</text><text x="210" y="74.52">Zamiaceae</text><text x="210" y="99.37">Araucariaceae</text><text x="210" y="124.21">Podocarpaceae</text><text x="170.6" y="149.05">Welwitschiaceae</text><text x="170.6" y="173.89">Sciadopityaceae</text><text x="170.6" y="198.73">Ephedraceae</text><text x="170.6" y="223.57">Taxaceae</text><text x="170.6" y="248.41">Cupressaceae</text><text x="170.6" y="273.25">Gnetaceae</text><text x="170.6" y="298.1">Pinaceae</text></g>
</g>

<g id="tree_r5c1" transform="translate(399.05,1801.3)">
<use xlink:href="#ax11"/>
<path class="tk" d="M10.5,313v3.5M61.1,313v3.5M111.7,313v3.5M162.2,313v3.5M212.8,313v3.5M263.4,313v3.5"/>
<g class="xt"><text x="10.5" y="329">0.00</text><text x="61.1" y="329">0.02</text><text x="111.7" y="329">0.04</text><text x="162.2" y="329">0.06</text><text x="212.8" y="329">0.08</text><text x="263.4" y="329">0.10</text></g>
<g class="ed" transform="translate(10.5,-5.397) scale(1,26.983)"><path vector-effect="non-scaling-stroke" d="M79.4,6.969H0V11H137M158.9,4.688H79.4V9.25H101.3M210,3.125H158.9V6.25H210M210,1V4M210,5V7M158.9,8.5H101.3V10H158.9M158.9,8V9"/></g>
<g class="lb" transform="translate(13.7,-1.297)"><text x="210" y="26.98">Podocarpaceae</text><text x="210" y="53.97">Araucariaceae</text><text x="210" y="80.95">Cupressaceae</text><text x="210" y="107.93">Sciadopityaceae</text><text x="210" y="134.91">Zamiaceae</text><text x="210" y="161.9">Ginkgoaceae</text><text x="210" y="188.88">Cycadaceae</text><text x="158.9" y="215.86">Welwitschiaceae</text><text x="158.9" y="242.84">Gnetaceae</text><text x="158.9" y="269.83">Ephedraceae</text><text x="137" y="296.81">Pinaceae</text></g>
</g>

<g id="tree_r5c2" transform="translate(756.8,1801.3)">
<use xlink:href="#ax12"/>
<path class="tk" d="M10.5,313v3.5M70.75,313v3.5M131,313v3.5M191.25,313v3.5M251.5,313v3.5"/>
<g class="xt"><text x="10.5" y="329">0.00</text><text x="70.75" y="329">0.05</text><text x="131" y="329">0.10</text><text x="191.25" y="329">0.15</text><text x="251.5" y="329">0.20</text></g>
<g class="ed" transform="translate(10.5,-4.968) scale(1,24.841)"><path vector-effect="non-scaling-stroke" d="M22.8,7.453H0V11.25H40.2M52,5.906H22.8V9H164.3M65.7,4.313H52V7.5H105.9M125.1,2.625H65.7V6H178M170.7,1.5H125.1V3.75H157M210,1H170.7V2H210M210,3H157V4.5H175.3M210,4H175.3V5H210M178,7H105.9V8H178M112.3,10.5H40.2V12H164.3M164.3,10H112.3V11H164.3"/></g>
<g class="lb" transform="translate(13.7,-0.868)"><text x="210" y="24.84">Araucariaceae</text><text x="210" y="49.68">Podocarpaceae</text><text x="210" y="74.52">Cycadaceae</text><text x="210" y="99.37">Ginkgoaceae</text><text x="210" y="124.21">Zamiaceae</text><text x="178" y="149.05">Sciadopityaceae</text><text x="178" y="173.89">Cupressaceae</text><text x="178" y="198.73">Taxaceae</text><text x="164.3" y="223.57">Pinaceae</text><text x="164.3" y="248.41">Welwitschiaceae</text><text x="164.3" y="273.25">Ephedraceae</text><text x="164.3" y="298.1">Gnetaceae</text></g>
</g>

<g id="tree_r5c3" transform="translate(1114.55,1801.3)">
<use xlink:href="#ax12"/>
<path class="tk" d="M10.5,313v3.5M56.2,313v3.5M101.8,313v3.5M147.5,313v3.5M193.1,313v3.5M238.8,313v3.5"/>
<g class="xt"><text x="10.5" y="329">0.00</text><text x="56.2" y="329">0.02</text><text x="101.8" y="329">0.04</text><text x="147.5" y="329">0.06</text><text x="193.1" y="329">0.08</text><text x="238.8" y="329">0.10</text></g>
<g class="ed" transform="translate(10.5,-4.968) scale(1,24.841)"><path vector-effect="non-scaling-stroke" d="M133.3,1H0V7.063H87.7M136,4.5H87.7V9.625H136M162.5,3.25H136V5.75H202.7M194.5,2.5H162.5V4H210M210,2H194.5V3H210M210,5H202.7V6.5H210M210,6V7M198.1,8.5H136V10.75H151.6M198.1,8V9M198.1,10H151.6V11.5H183.5M198.1,11H183.5V12H198.1"/></g>
<g class="lb" transform="translate(13.7,-0.868)"><text x="133.3" y="24.84">Araucariaceae</text><text x="210" y="49.68">Sciadopityaceae</text><text x="210" y="74.52">Cupressaceae</text><text x="210" y="99.37">Ephedraceae</text><text x="210" y="124.21">Ginkgoaceae</text><text x="210" y="149.05">Zamiaceae</text><text x="210" y="173.89">Cycadaceae</text><text x="198.1" y="198.73">Welwitschiaceae</text><text x="198.1" y="223.57">Gnetaceae</text><text x="198.1" y="248.41">Pinaceae</text><text x="198.1" y="273.25">Podocarpaceae</text><text x="198.1" y="298.1">Taxaceae</text></g>
</g>

<g id="empty_axes" transform="translate(1472.3,1801.3)">
<rect class="fr" x="0" y="0" width="273" height="313"/>
<path class="tk" d="M0,313v3.5M54.6,313v3.5M109.2,313v3.5M163.8,313v3.5M218.4,313v3.5M273,313v3.5M0,313h-3.5M0,250.4h-3.5M0,187.8h-3.5M0,125.2h-3.5M0,62.6h-3.5M0,0h-3.5"/>
<g class="xt"><text x="0" y="329">0.0</text><text x="54.6" y="329">0.2</text><text x="109.2" y="329">0.4</text><text x="163.8" y="329">0.6</text><text x="218.4" y="329">0.8</text><text x="273" y="329">1.0</text></g>
<g class="yl"><text x="-7" y="317.1">0.0</text><text x="-7" y="254.5">0.2</text><text x="-7" y="191.9">0.4</text><text x="-7" y="129.3">0.6</text><text x="-7" y="66.7">0.8</text><text x="-7" y="4.1">1.0</text></g>
</g>
</svg>
